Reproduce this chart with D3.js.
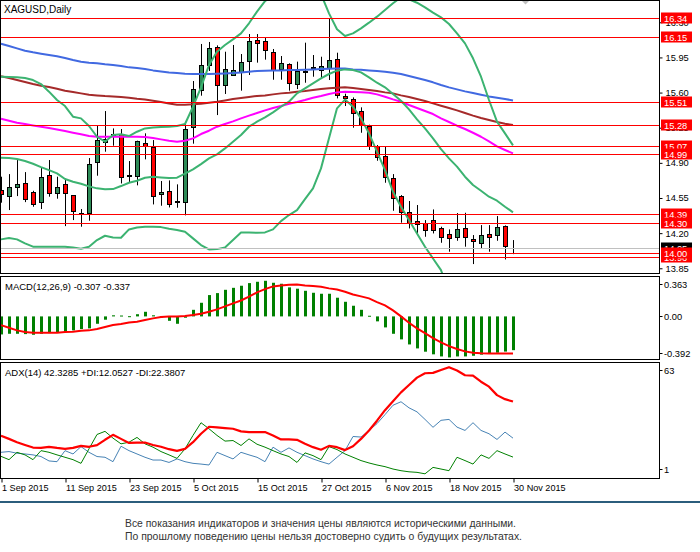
<!DOCTYPE html>
<html><head><meta charset="utf-8">
<script src="https://cdn.jsdelivr.net/npm/d3@7/dist/d3.min.js"></script>
<style>
html,body{margin:0;padding:0;background:#fff;}
svg{display:block;font-family:"Liberation Sans",Arial,sans-serif;}
</style></head>
<body>
<svg id="chart" width="700" height="552"></svg>
<script>
// ---------- DATA ----------
const dates = ["2015-09-01","2015-09-02","2015-09-03","2015-09-04","2015-09-07","2015-09-08","2015-09-09","2015-09-10","2015-09-11","2015-09-14","2015-09-15","2015-09-16","2015-09-17","2015-09-18","2015-09-21","2015-09-22","2015-09-23","2015-09-24","2015-09-25","2015-09-28","2015-09-29","2015-09-30",
"2015-10-01","2015-10-02","2015-10-05","2015-10-06","2015-10-07","2015-10-08","2015-10-09","2015-10-12","2015-10-13","2015-10-14","2015-10-15","2015-10-16","2015-10-19","2015-10-20","2015-10-21","2015-10-22","2015-10-23","2015-10-26","2015-10-27","2015-10-28","2015-10-29","2015-10-30",
"2015-11-02","2015-11-03","2015-11-04","2015-11-05","2015-11-06","2015-11-09","2015-11-10","2015-11-11","2015-11-12","2015-11-13","2015-11-16","2015-11-17","2015-11-18","2015-11-19","2015-11-20","2015-11-23","2015-11-24","2015-11-25","2015-11-26","2015-11-27","2015-11-30"];
const tickIndex = [0,8,16,24,32,40,48,56,64];
const tickLabels = ["1 Sep 2015","11 Sep 2015","23 Sep 2015","5 Oct 2015","15 Oct 2015","27 Oct 2015","6 Nov 2015","18 Nov 2015","30 Nov 2015"];

const open  = [14.629,14.573,14.662,14.699,14.606,14.513,14.775,14.596,14.689,14.576,14.398,14.397,14.911,15.111,15.175,15.187,14.769,14.769,15.094,15.061,14.586,14.616,
14.506,14.506,15.253,15.622,15.871,16.050,15.672,15.772,15.808,15.911,16.120,16.113,16.004,15.838,15.881,15.682,15.808,15.841,15.825,15.841,15.937,15.566,
15.532,15.413,15.267,15.071,14.968,14.745,14.566,14.407,14.320,14.297,14.330,14.247,14.187,14.164,14.247,14.141,14.104,14.187,14.177,14.270,14.050];
const high  = [14.762,14.788,14.928,14.808,14.622,14.848,14.928,14.762,14.742,14.576,14.440,14.948,15.267,15.416,15.243,15.237,14.918,15.121,15.194,15.127,14.719,14.725,
14.686,15.307,15.715,16.084,16.104,16.070,16.007,16.074,15.984,16.183,16.183,16.147,16.034,15.964,15.891,15.908,16.097,15.974,15.957,16.333,15.997,15.589,
15.552,15.453,15.280,15.078,15.061,14.788,14.579,14.520,14.480,14.330,14.436,14.264,14.237,14.400,14.403,14.181,14.280,14.280,14.370,14.277,14.131];
const low   = [14.503,14.430,14.569,14.509,14.463,14.440,14.563,14.543,14.270,14.330,14.264,14.324,14.772,15.011,15.071,14.695,14.702,14.676,14.935,14.486,14.473,14.456,
14.453,14.377,15.091,15.569,15.815,15.376,15.586,15.768,15.619,15.775,15.898,15.928,15.728,15.728,15.619,15.635,15.698,15.758,15.735,15.725,15.542,15.466,
15.250,15.200,15.028,14.921,14.702,14.423,14.304,14.247,14.181,14.164,14.197,14.104,14.015,14.124,14.065,13.892,14.048,14.015,14.124,13.938,13.991];
const close = [14.586,14.656,14.689,14.543,14.493,14.755,14.602,14.656,14.596,14.423,14.405,14.888,15.124,15.141,15.185,14.762,14.778,15.114,15.071,14.573,14.606,14.490,
14.516,15.234,15.632,15.874,16.040,15.678,15.831,15.821,15.904,16.110,16.097,16.027,15.825,15.894,15.692,15.815,15.818,15.851,15.861,15.921,15.576,15.542,
15.400,15.273,15.067,14.954,14.762,14.553,14.413,14.304,14.290,14.231,14.231,14.164,14.154,14.240,14.164,14.118,14.181,14.164,14.257,14.074,14.050];

const maBlue = [16.087,16.064,16.040,16.017,16.001,15.987,15.974,15.961,15.944,15.924,15.908,15.898,15.891,15.881,15.874,15.864,15.851,15.845,15.835,15.821,15.811,15.801,
15.795,15.788,15.785,15.785,15.785,15.788,15.791,15.795,15.801,15.808,15.815,15.818,15.821,15.821,15.825,15.825,15.828,15.831,15.835,15.838,15.841,15.841,
15.831,15.828,15.821,15.815,15.808,15.798,15.785,15.765,15.745,15.725,15.702,15.675,15.652,15.632,15.612,15.595,15.579,15.562,15.549,15.536,15.522];
const maBrown = [15.762,15.745,15.725,15.705,15.685,15.669,15.655,15.639,15.619,15.605,15.592,15.579,15.572,15.566,15.562,15.556,15.549,15.539,15.532,15.519,15.506,15.492,
15.479,15.479,15.483,15.489,15.499,15.509,15.522,15.536,15.546,15.556,15.566,15.572,15.582,15.592,15.599,15.609,15.615,15.625,15.635,15.642,15.649,15.652,
15.645,15.635,15.625,15.615,15.602,15.592,15.572,15.556,15.536,15.516,15.492,15.469,15.446,15.423,15.396,15.370,15.346,15.326,15.307,15.290,15.277];
const maMagenta = [15.340,15.320,15.300,15.287,15.273,15.260,15.247,15.233,15.217,15.200,15.184,15.167,15.160,15.160,15.160,15.160,15.160,15.160,15.157,15.147,15.134,15.121,
15.111,15.121,15.144,15.187,15.220,15.260,15.287,15.313,15.343,15.370,15.396,15.423,15.446,15.466,15.489,15.506,15.526,15.549,15.566,15.586,15.602,15.609,
15.605,15.602,15.599,15.582,15.559,15.532,15.509,15.476,15.446,15.416,15.386,15.343,15.307,15.270,15.237,15.200,15.160,15.114,15.064,15.028,14.994];
const bbUpper = [15.758,15.755,15.752,15.745,15.725,15.685,15.609,15.526,15.466,15.360,15.343,15.267,15.160,15.111,15.177,15.184,15.167,15.210,15.243,15.253,15.257,15.260,
15.267,15.287,15.459,15.652,15.874,16.007,16.074,16.130,16.190,16.290,16.406,16.510,16.570,16.600,16.640,16.700,16.720,16.700,16.580,16.389,16.230,16.163,
16.190,16.240,16.296,16.356,16.422,16.489,16.549,16.529,16.495,16.449,16.396,16.349,16.283,16.190,16.090,15.941,15.758,15.526,15.310,15.194,15.074];
const bbMiddle = [14.951,14.948,14.938,14.918,14.891,14.858,14.828,14.795,14.739,14.712,14.692,14.666,14.646,14.636,14.639,14.669,14.702,14.722,14.752,14.762,14.755,14.749,
14.752,14.792,14.835,14.888,14.945,14.984,15.044,15.111,15.177,15.260,15.310,15.353,15.403,15.459,15.509,15.592,15.642,15.692,15.742,15.785,15.818,15.831,
15.825,15.801,15.752,15.698,15.652,15.585,15.519,15.433,15.333,15.243,15.144,15.037,14.945,14.862,14.762,14.679,14.622,14.563,14.523,14.463,14.407];
const bbLower = [14.138,14.151,14.138,14.098,14.065,14.065,14.065,14.065,14.065,14.058,14.045,14.065,14.131,14.174,14.157,14.154,14.237,14.257,14.264,14.264,14.260,14.244,
14.231,14.214,14.148,14.081,14.038,14.041,14.058,14.131,14.207,14.207,14.204,14.207,14.237,14.320,14.380,14.430,14.539,14.646,14.845,15.144,15.443,15.530,
15.459,15.343,15.194,15.011,14.828,14.612,14.463,14.330,14.197,14.065,13.948,13.832,13.610,13.530,13.430,13.420,13.490,13.600,13.740,13.730,13.740];

const levels = [16.34,16.15,15.51,15.28,15.07,14.99,14.39,14.30,13.96,14.00];
const lastPrice = 14.05;
const priceTicks = [16.30,15.95,15.60,15.25,14.90,14.55,14.20,13.85];

const macdHist = [-0.164,-0.158,-0.158,-0.161,-0.167,-0.158,-0.152,-0.148,-0.139,-0.127,-0.115,-0.109,-0.067,-0.030,0.010,0.008,0.002,0.020,0.042,0.010,-0.010,-0.040,
-0.067,-0.012,0.060,0.124,0.194,0.212,0.242,0.260,0.279,0.303,0.315,0.324,0.306,0.297,0.264,0.252,0.233,0.215,0.206,0.206,0.170,0.133,
0.097,0.060,0.006,-0.045,-0.100,-0.158,-0.209,-0.255,-0.291,-0.321,-0.345,-0.364,-0.373,-0.364,-0.364,-0.358,-0.348,-0.339,-0.330,-0.320,-0.307];
const macdSignal = [-0.079,-0.103,-0.127,-0.142,-0.148,-0.148,-0.148,-0.148,-0.142,-0.139,-0.130,-0.127,-0.115,-0.097,-0.079,-0.070,-0.055,-0.048,-0.033,-0.018,-0.006,0.000,
0.000,0.003,0.012,0.024,0.042,0.064,0.091,0.118,0.145,0.179,0.218,0.248,0.273,0.282,0.288,0.291,0.282,0.276,0.270,0.255,0.245,0.224,
0.200,0.182,0.164,0.130,0.100,0.055,0.000,-0.058,-0.109,-0.152,-0.197,-0.236,-0.270,-0.297,-0.318,-0.330,-0.336,-0.337,-0.337,-0.337,-0.337];
const macdTicks = [0.363,0.00,-0.392];

const adx = [23.7,22.0,20.2,18.7,17.3,17.1,17.7,17.1,16.6,17.1,18.2,17.7,18.6,21.5,24.2,22.0,19.8,20.0,20.0,18.7,17.7,16.4,
15.5,16.6,20.2,24.8,28.6,28.3,27.9,27.5,26.1,25.7,25.7,25.7,23.9,21.7,21.7,21.5,19.3,17.5,16.1,18.2,17.5,15.9,
18.0,22.0,26.6,31.9,37.6,42.5,47.3,51.3,55.3,57.7,57.9,59.5,61.0,59.2,56.6,56.4,53.1,50.4,45.8,43.6,42.3];
const plusDI = [12.5,10.7,14.7,13.3,10.7,15.6,14.7,13.3,12.0,10.7,8.7,16.6,24.4,26.1,22.4,19.3,20.2,22.8,19.3,17.5,15.1,13.3,
11.4,16.6,23.9,30.8,27.5,23.9,20.8,21.1,18.4,22.0,19.1,17.5,15.6,13.8,12.4,9.2,14.4,12.9,10.7,17.8,16.2,13.8,
12.0,10.2,8.9,7.8,6.9,5.6,4.7,4.1,3.8,3.0,6.5,5.6,4.7,12.0,10.2,8.3,13.3,11.4,15.6,13.8,12.1];
const minusDI = [14.7,15.1,14.2,13.8,13.3,12.4,10.0,9.6,15.6,13.8,17.8,14.7,12.4,12.0,9.6,18.0,15.6,13.8,12.0,10.5,10.5,9.2,
11.1,9.6,8.7,8.3,7.8,14.7,12.9,11.1,14.7,13.3,12.0,9.6,17.5,14.7,17.1,14.7,12.9,11.1,9.6,8.3,12.0,15.6,
23.3,23.0,26.6,30.3,35.2,40.3,42.2,38.9,36.7,32.6,28.3,32.1,32.6,28.4,26.6,30.8,26.6,24.8,21.7,25.7,22.4];
const adxTicks = [63,1];

// ---------- LAYOUT ----------
const svg = d3.select("#chart");
const W = 700, plotR = 659.5;
const P = {
  main: {top:0.5, bottom:273.5},
  macd: {top:276.5, bottom:359.5},
  adx:  {top:362.5, bottom:478.5}
};
const x = d3.scaleLinear().domain([0, dates.length-1]).range([1, 513]);
const yMain = d3.scaleLinear().domain([13.808, 16.522]).range([272.5, 0]);
const yMacd = d3.scaleLinear().domain([-0.392, 0.363]).range([359.5, 276.5]);
const yAdx  = d3.scaleLinear().domain([1, 63]).range([477.5, 363.5]);
const idx = d3.range(dates.length);
const px = v => Math.round(v) + 0.5;

// clip paths
const defs = svg.append("defs");
Object.entries(P).forEach(([k,p]) => {
  defs.append("clipPath").attr("id","clip-"+k).append("rect")
    .attr("x",0).attr("y",p.top).attr("width",plotR).attr("height",p.bottom-p.top);
});

// ---------- MAIN PANEL ----------
const gMain = svg.append("g").attr("clip-path","url(#clip-main)");

// candles
const cg = gMain.append("g");
idx.forEach(i => {
  const cx = Math.round(x(i));
  cg.append("line").attr("x1",cx+0.5).attr("x2",cx+0.5)
    .attr("y1",yMain(high[i])).attr("y2",yMain(low[i]))
    .attr("stroke","#000").attr("stroke-width",1);
  const top = yMain(Math.max(open[i],close[i])), bot = yMain(Math.min(open[i],close[i]));
  if (Math.abs(open[i]-close[i]) < 0.002) {
    cg.append("line").attr("x1",cx-2).attr("x2",cx+3)
      .attr("y1",px(top)).attr("y2",px(top)).attr("stroke","#000");
  } else {
    cg.append("rect").attr("x",cx-1.5).attr("width",4)
      .attr("y",Math.round(top)+0.5).attr("height",Math.max(1,Math.round(bot)-Math.round(top)))
      .attr("fill", close[i] >= open[i] ? "#2E8B57" : "#FF0000")
      .attr("stroke","#000").attr("stroke-width",1);
  }
});

// indicator lines
function drawMain(arr, color){
  gMain.append("path").datum(idx)
    .attr("d", d3.line().x(i=>x(i)).y(i=>yMain(arr[i])))
    .attr("fill","none").attr("stroke",color).attr("stroke-width",2)
    .attr("stroke-linejoin","round");
}
drawMain(maBlue, "#4169E1");
drawMain(maBrown, "#A52A2A");
drawMain(maMagenta, "#FF00FF");
drawMain(bbUpper, "#3CB371");
drawMain(bbMiddle, "#3CB371");
drawMain(bbLower, "#3CB371");

// last price line
svg.append("line").attr("x1",0).attr("x2",plotR)
  .attr("y1",px(yMain(lastPrice))).attr("y2",px(yMain(lastPrice)))
  .attr("stroke","#C0C0C0").attr("stroke-width",1);

// horizontal levels
levels.forEach(l => {
  svg.append("line").attr("x1",0).attr("x2",plotR)
    .attr("y1",px(yMain(l))).attr("y2",px(yMain(l)))
    .attr("stroke","#FF0000").attr("stroke-width",1);
});

// shift marker
svg.append("path").attr("d","M521,0 L530,0 L525.5,4.5 Z").attr("fill","#C0C0C0");

// title
svg.append("text").attr("x",4).attr("y",12.5).attr("font-size",10).attr("fill","#000").text("XAGUSD,Daily");

// price axis
const axMain = svg.append("g").attr("transform",`translate(${plotR},0)`)
  .call(d3.axisRight(yMain).tickValues(priceTicks).tickFormat(d3.format(".2f")).tickSize(3).tickSizeOuter(0));
axMain.select(".domain").remove();
axMain.selectAll("line").attr("stroke","#000");
axMain.selectAll("text").attr("x",6).attr("font-size",9.3).attr("fill","#000")
  .attr("font-family","Liberation Sans, Arial, sans-serif");

// price labels
function priceLabel(v, bg){
  const yc = yMain(v);
  svg.append("rect").attr("x",661).attr("y",Math.round(yc)-5.5).attr("width",31).attr("height",11).attr("fill",bg);
  svg.append("text").attr("x",664).attr("y",Math.round(yc)+3.5).attr("font-size",9.3).attr("fill","#fff").text(v.toFixed(2));
}
priceLabel(lastPrice, "#000");
levels.forEach(l => priceLabel(l, "#FF0000"));

// ---------- MACD PANEL ----------
const gMacd = svg.append("g").attr("clip-path","url(#clip-macd)");
gMacd.selectAll("rect.h").data(idx).enter().append("rect")
  .attr("x", i => Math.round(x(i))-1).attr("width",3)
  .attr("y", i => Math.min(yMacd(0), yMacd(macdHist[i])))
  .attr("height", i => Math.max(1, Math.abs(yMacd(macdHist[i]) - yMacd(0))))
  .attr("fill","#008000");
gMacd.append("path").datum(idx)
  .attr("d", d3.line().x(i=>x(i)).y(i=>yMacd(macdSignal[i])))
  .attr("fill","none").attr("stroke","#FF0000").attr("stroke-width",2);
svg.append("text").attr("x",5).attr("y",289.5).attr("font-size",9.5).attr("fill","#000")
  .text(`MACD(12,26,9) ${macdHist[macdHist.length-1].toFixed(3)} ${macdSignal[macdSignal.length-1].toFixed(3)}`);
const macdLabY = [288, 320, 357];
macdTicks.forEach((t,k) => {
  svg.append("text").attr("x",664).attr("y",macdLabY[k]).attr("font-size",9.3).attr("fill","#000")
    .text(t===0 ? "0.00" : t.toFixed(3));
  svg.append("line").attr("x1",plotR).attr("x2",plotR+3).attr("y1",macdLabY[k]-3.5).attr("y2",macdLabY[k]-3.5).attr("stroke","#000");
});

// ---------- ADX PANEL ----------
const gAdx = svg.append("g").attr("clip-path","url(#clip-adx)");
function drawAdx(arr,color,w){
  gAdx.append("path").datum(idx)
    .attr("d", d3.line().x(i=>x(i)).y(i=>yAdx(arr[i])))
    .attr("fill","none").attr("stroke",color).attr("stroke-width",w).attr("stroke-linejoin","round");
}
drawAdx(minusDI, "#4682B4", 1);
drawAdx(plusDI, "#008000", 1);
drawAdx(adx, "#FF0000", 2.2);
svg.append("text").attr("x",5).attr("y",375.5).attr("font-size",9.5).attr("fill","#000")
  .text("ADX(14) 42.3285 +DI:12.0527 -DI:22.3807");
const adxLabY = [374, 473];
adxTicks.forEach((t,k) => {
  svg.append("text").attr("x",664).attr("y",adxLabY[k]).attr("font-size",9.3).attr("fill","#000").text(t);
  svg.append("line").attr("x1",plotR).attr("x2",plotR+3).attr("y1",adxLabY[k]-3.5).attr("y2",adxLabY[k]-3.5).attr("stroke","#000");
});

// ---------- FRAMES ----------
Object.values(P).forEach(p => {
  svg.append("rect").attr("x",0.5).attr("y",p.top).attr("width",plotR-0.5).attr("height",p.bottom-p.top)
    .attr("fill","none").attr("stroke","#000").attr("stroke-width",1);
});

// ---------- TIME AXIS ----------
const axX = svg.append("g").attr("transform",`translate(0,${P.adx.bottom})`)
  .call(d3.axisBottom(x).tickValues(tickIndex).tickFormat((d,k)=>tickLabels[k]).tickSize(4).tickSizeOuter(0));
axX.select(".domain").remove();
axX.selectAll("line").attr("stroke","#000").attr("transform","translate(0.5,0)");
axX.selectAll("text").attr("text-anchor","start").attr("x",0.5).attr("y",6).attr("dy","0.71em")
  .attr("font-size",9.1).attr("fill","#000").attr("font-family","Liberation Sans, Arial, sans-serif");

// ---------- FOOTER ----------
svg.append("rect").attr("x",0).attr("y",501).attr("width",W).attr("height",2).attr("fill","#2B5D7C");
const footer = ["Все показания индикаторов и значения цены являются историческими данными.",
                "По прошлому поведению цены нельзя достоверно судить о будущих результатах."];
const footerW = [391, 397];
footer.forEach((t,k) => {
  svg.append("text").attr("x",125).attr("y",527 + k*13).attr("font-size",11).attr("fill","#333")
    .attr("textLength",footerW[k]).attr("lengthAdjust","spacingAndGlyphs").text(t);
});
</script>
</body></html>
